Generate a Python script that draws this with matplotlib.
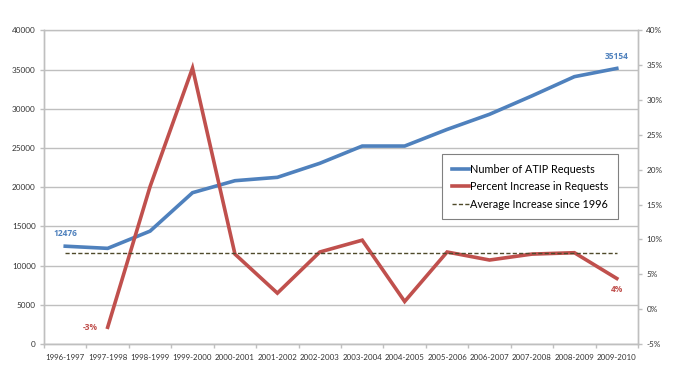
import matplotlib.pyplot as plt
import numpy as np

# ATIP requests per fiscal year and year-over-year percent increase
years = ['1996-1997', '1997-1998', '1998-1999', '1999-2000', '2000-2001', '2001-2002',
         '2002-2003', '2003-2004', '2004-2005', '2005-2006', '2006-2007', '2007-2008',
         '2008-2009', '2009-2010']
requests = [12476, 12200, 14400, 19300, 20830, 21260, 23050, 25250, 25250, 27370,
            29300, 31650, 34100, 35154]
pct_years = years[1:]
pct_increase = [-2.6, 17.6, 34.6, 7.9, 2.3, 8.2, 9.9, 1.1, 8.2, 7.05, 7.9, 8.1, 4.4]
avg_increase = 8.1

BLUE = '#4F81BD'
RED = '#C0504D'
DASH = '#4F4A2A'
GRID = '#BFBFBF'
TXT = '#333333'

plt.rcParams['font.family'] = ['Lato', 'DejaVu Sans']

fig = plt.figure(figsize=(6.89, 3.85), dpi=100)
ax = fig.add_axes([0.0639, 0.1065, 0.8621, 0.8145])
ax2 = ax.twinx()

x = np.arange(len(years))
x_pct = x[1:]

l1, = ax.plot(x, requests, color=BLUE, lw=2.6, solid_joinstyle='miter',
              label='Number of ATIP Requests')
l2, = ax2.plot(x_pct, pct_increase, color=RED, lw=2.6, solid_joinstyle='miter',
               label='Percent Increase in Requests')
l3, = ax2.plot(x, [avg_increase] * len(x), color=DASH, lw=1.0, ls=(0, (3, 1.6)),
               label='Average Increase since 1996')

ax.set_ylim(0, 40000)
ax.set_yticks(np.arange(0, 40001, 5000))
ax2.set_ylim(-5, 40)
ax2.set_yticks(np.arange(-5, 41, 5))
ax2.set_yticklabels([f'{v}%' for v in range(-5, 41, 5)])

ax.set_xlim(-0.5, len(years) - 0.5)
ax.set_xticks(np.arange(-0.5, len(years), 1.0))
ax.set_xticklabels([])
ax.set_xticks(x, minor=True)
ax.set_xticklabels(years, minor=True)
ax.tick_params(axis='x', which='minor', length=0, pad=7, labelsize=5.7, labelcolor=TXT)
ax.tick_params(axis='x', which='major', length=3, color=GRID, width=1)
ax.tick_params(axis='y', length=3, color=GRID, width=1, labelsize=5.9, labelcolor=TXT, pad=3)
ax2.tick_params(axis='y', length=3, color=GRID, width=1, labelsize=5.9, labelcolor=TXT, pad=3)

ax.yaxis.grid(True, color=GRID, lw=1)
ax.set_axisbelow(True)
for a in (ax, ax2):
    for s in a.spines.values():
        s.set_color(GRID)
        s.set_linewidth(1)
ax2.spines['top'].set_visible(False)

# data labels
lbl = dict(fontsize=6.0, fontweight='bold', family=['Open Sans', 'DejaVu Sans'])
ax.annotate(f'{requests[0]}', (x[0], requests[0]), xytext=(0, 6), textcoords='offset points',
            ha='center', va='bottom', color=BLUE, **lbl)
ax.annotate(f'{requests[-1]}', (x[-1], requests[-1]), xytext=(0, 5), textcoords='offset points',
            ha='center', va='bottom', color=BLUE, **lbl)
ax2.annotate(f'{pct_increase[0]:.0f}%', (x_pct[0], pct_increase[0]), xytext=(-7, 0),
             textcoords='offset points', ha='right', va='center', color=RED, **lbl)
ax2.annotate(f'{pct_increase[-1]:.0f}%', (x_pct[-1], pct_increase[-1]), xytext=(0, -5),
             textcoords='offset points', ha='center', va='top', color=RED, **lbl)

leg = ax2.legend(handles=[l1, l2, l3], loc='upper left', bbox_to_anchor=(0.67, 0.606),
                 borderaxespad=0, fontsize=7.8, handlelength=1.6, handletextpad=0.1,
                 labelspacing=0.6, borderpad=0.9, fancybox=False, framealpha=1)
leg.get_frame().set_edgecolor('#808080')
leg.get_frame().set_linewidth(0.8)

fig.savefig('out.png', dpi=100)
